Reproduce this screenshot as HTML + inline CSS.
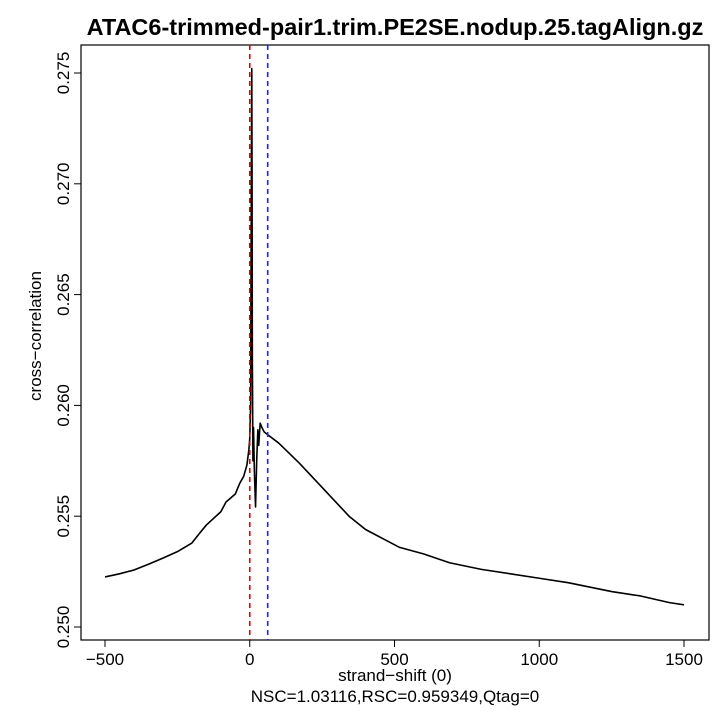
<!DOCTYPE html>
<html><head><meta charset="utf-8"><style>
body{margin:0;background:#fff}
svg{display:block;font-family:"Liberation Sans",Arial,sans-serif}
</style></head><body>
<svg id="chart" width="720" height="720">
<rect width="720" height="720" fill="#fff"/>
<text x="395" y="35" font-size="23.5" font-weight="bold" text-anchor="middle">ATAC6-trimmed-pair1.trim.PE2SE.nodup.25.tagAlign.gz</text>
<rect x="81" y="45" width="628" height="595" fill="none" stroke="#000" stroke-width="1.2"/>
<g id="xaxis"></g>
<g id="yaxis"></g>
<text x="395" y="681" font-size="17" text-anchor="middle">strand−shift (0)</text>
<text x="395" y="702" font-size="17" text-anchor="middle">NSC=1.03116,RSC=0.959349,Qtag=0</text>
<text transform="translate(41,336) rotate(-90)" font-size="17" text-anchor="middle">cross−correlation</text>
<g id="marks"></g>
</svg>
<script>
const shifts=[-500,-450,-400,-350,-300,-250,-200,-175,-150,-100,-82,-50,-34,-21,-10,-3,0,3,5,7,8,9,11,13,16,20,24,28,31,36,42,50,60,100,171,250,343,400,516,600,690,800,900,1000,1100,1250,1350,1450,1500];
const corr=[.25226,.25240,.25257,.25283,.25311,.25340,.25379,.25420,.25460,.25520,.25564,.25600,.25650,.25680,.25730,.25800,.2585,.2600,.2680,.2752,.2700,.2620,.2575,.2590,.2570,.25542,.2575,.2589,.2582,.2592,.2590,.2588,.2587,.2583,.2574,.2563,.2550,.2544,.2536,.2533,.2529,.2526,.2524,.2522,.2520,.2516,.2514,.2511,.2510];
const xTicks=[-500,0,500,1000,1500];
const yTicks=[0.250,0.255,0.260,0.265,0.270,0.275];
const vLines=[0,62];
const NS="http://www.w3.org/2000/svg";
const X=v=>249.75+(v)*0.2895;
const Y=v=>627-(v-0.25)/0.005*110.8;
function mk(t,a,p){const e=document.createElementNS(NS,t);for(const k in a)e.setAttribute(k,a[k]);p.appendChild(e);return e;}
const xa=document.getElementById('xaxis'),ya=document.getElementById('yaxis'),m=document.getElementById('marks');
mk('line',{x1:X(xTicks[0]),x2:X(xTicks[xTicks.length-1]),y1:640,y2:640,stroke:'#000'},xa);
xTicks.forEach(t=>{
 const l=mk('line',{x1:X(t),x2:X(t),y1:640,y2:647,stroke:'#000'},xa);
 
 
 const tx=mk('text',{x:X(t),y:665,'font-size':17,'text-anchor':'middle'},xa);
 tx.textContent=t<0?'−'+(-t):String(t);
 
 
});
mk('line',{x1:81,x2:81,y1:Y(yTicks[0]),y2:Y(yTicks[yTicks.length-1]),stroke:'#000'},ya);
yTicks.forEach(t=>{
 const l=mk('line',{x1:74,x2:81,y1:Y(t),y2:Y(t),stroke:'#000'},ya);
 
 
 const tx=mk('text',{transform:`translate(69,${Y(t)}) rotate(-90)`,'font-size':17,'text-anchor':'middle'},ya);
 tx.textContent=t.toFixed(3);
 
 
});
const p=mk('polyline',{points:shifts.map((s,i)=>X(s)+','+Y(corr[i])).join(' '),fill:'none',stroke:'#000','stroke-width':1.6,'stroke-linejoin':'round'},m);


const colors=['#e00000','#2020ff'];
vLines.forEach((v,i)=>{
 const l=mk('line',{x1:X(v),x2:X(v),y1:45,y2:640,stroke:colors[i],'stroke-width':1.6,'stroke-dasharray':'5,4'},m);
 
 
});
</script>
</body></html>
